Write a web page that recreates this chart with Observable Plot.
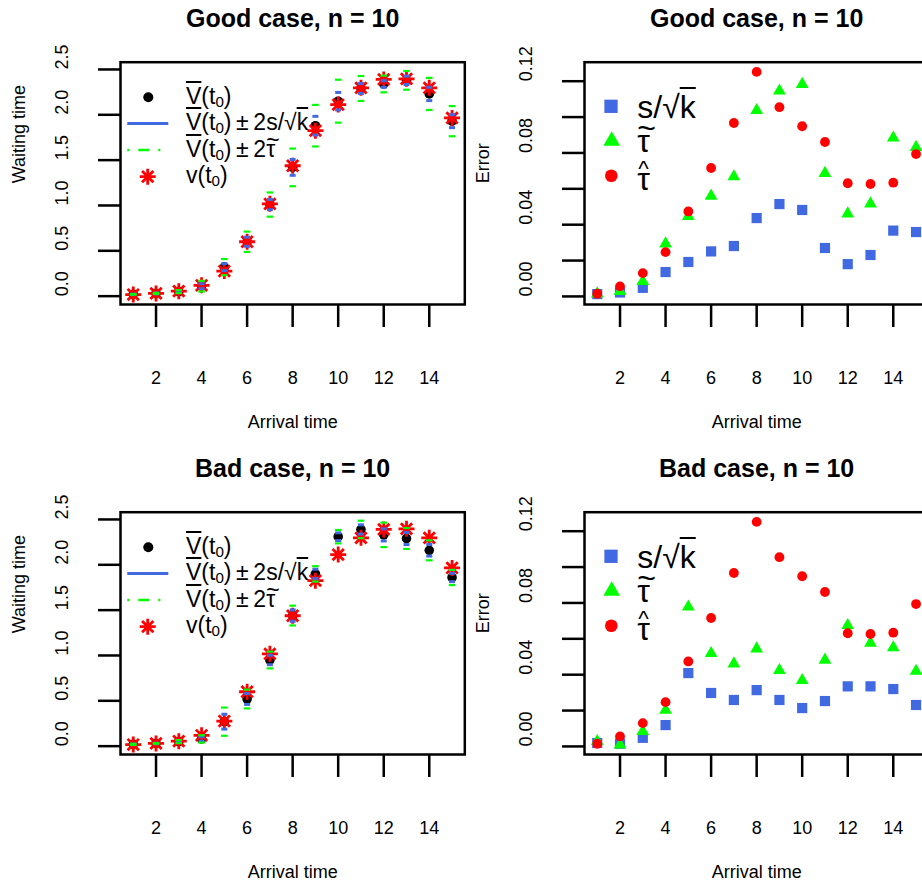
<!DOCTYPE html>
<html>
<head>
<meta charset="utf-8">
<script src="https://cdn.jsdelivr.net/npm/d3@7"></script>
<script src="https://cdn.jsdelivr.net/npm/@observablehq/plot@0.6"></script>
<style>
  html, body { margin:0; padding:0; background:#fff; overflow:hidden; }
  #root { position:relative; width:922px; height:882px; overflow:hidden; background:#fff;
          font-family:"Liberation Sans", Arial, Helvetica, sans-serif; color:#000; }
  .panel { position:absolute; width:470px; height:441px; }
  .panel > svg { position:absolute; left:0; top:0; overflow:visible; }
  .lg { position:absolute; line-height:1; white-space:nowrap; }
  .ov { text-decoration: overline; text-decoration-thickness: 2px; }
  .sb { font-size:0.66em; vertical-align:-0.22em; }
  .acc { position:relative; display:inline-block; }
  .mk { position:absolute; left:0; width:100%; text-align:center; line-height:1; }
</style>
</head>
<body>
<div id="root"></div>
<script>
// ---------- data ----------
const arrivalTime = [1, 2, 3, 4, 5, 6, 7, 8, 9, 10, 11, 12, 13, 14, 15];
const trueWait     = [0.018, 0.03, 0.055, 0.12, 0.277, 0.60, 1.018, 1.438, 1.825, 2.113, 2.297, 2.39, 2.397, 2.297, 1.965];
const goodMeanWait = [0.02, 0.03, 0.05, 0.11, 0.32, 0.60, 1.01, 1.42, 1.88, 2.15, 2.29, 2.34, 2.38, 2.23, 1.93];
const badMeanWait  = [0.02, 0.03, 0.05, 0.08, 0.27, 0.52, 0.95, 1.44, 1.90, 2.31, 2.39, 2.33, 2.29, 2.16, 1.86];
const goodSE       = [0.0013, 0.0022, 0.0048, 0.0136, 0.0192, 0.0251, 0.0281, 0.0437, 0.0515, 0.0482, 0.0270, 0.0180, 0.0231, 0.0367, 0.0359];
const goodTauTilde = [0.0015, 0.0028, 0.0084, 0.0294, 0.0447, 0.0560, 0.0668, 0.1038, 0.1146, 0.1183, 0.0687, 0.0461, 0.0517, 0.0884, 0.0832];
const badSE        = [0.0019, 0.0015, 0.0048, 0.0119, 0.0409, 0.0298, 0.0259, 0.0314, 0.0259, 0.0214, 0.0253, 0.0335, 0.0335, 0.0320, 0.0231];
const badTauTilde  = [0.0028, 0.0009, 0.0084, 0.0203, 0.0778, 0.0519, 0.0461, 0.0545, 0.0424, 0.0368, 0.0482, 0.0675, 0.0577, 0.0551, 0.0420];
const tauHat       = [0.0015, 0.0056, 0.0130, 0.0247, 0.0474, 0.0716, 0.0967, 0.1252, 0.1055, 0.0949, 0.0861, 0.0631, 0.0627, 0.0634, 0.0794];

const timeTicks = [2, 4, 6, 8, 10, 12, 14];
const waitTicks = [0, 0.5, 1, 1.5, 2, 2.5];
const errorTicks = [0, 0.02, 0.04, 0.06, 0.08, 0.10, 0.12];
const errorTickLabels = [0, 0.04, 0.08, 0.12];

const titles = ["Good case, n = 10", "Good case, n = 10", "Bad case, n = 10", "Bad case, n = 10"];
const xLabel = "Arrival time";
const yLabelLeft = "Waiting time";
const yLabelRight = "Error";

// ---------- style ----------
const BLUE = "#4169E1", GREEN = "#00FF00", RED = "#FF0000";
const FONT = "'Liberation Sans', Arial, Helvetica, sans-serif";

// custom symbols (r = sqrt(size/PI))
const star8 = { draw(ctx, size) { const r = Math.sqrt(size / Math.PI), d = r / Math.SQRT2;
  ctx.moveTo(-r, 0); ctx.lineTo(r, 0); ctx.moveTo(0, -r); ctx.lineTo(0, r);
  ctx.moveTo(-d, -d); ctx.lineTo(d, d); ctx.moveTo(-d, d); ctx.lineTo(d, -d); } };
const squareSym = { draw(ctx, size) { const r = Math.sqrt(size / Math.PI); ctx.rect(-r, -r, 2 * r, 2 * r); } };
const triSym = { draw(ctx, size) { const a = Math.sqrt(size / Math.PI), h = a * Math.sqrt(3);
  ctx.moveTo(0, -2 * h / 3); ctx.lineTo(a, h / 3); ctx.lineTo(-a, h / 3); ctx.closePath(); } };
const dashSym = { draw(ctx, size) { const r = Math.sqrt(size / Math.PI); ctx.moveTo(-r, 0); ctx.lineTo(r, 0); } };

const PW = 470, PH = 441;
const common = {
  width: PW, height: PH,
  marginLeft: 120, marginRight: 5.7, marginTop: 61.7, marginBottom: PH - 304,
  x: { type: "linear", domain: [0.44, 15.56] },
  style: { fontFamily: FONT, fontSize: "18px", background: "transparent", overflow: "visible", color: "#000" }
};

function frameMarks(title, yTicks, yLabels, yFmt, yLabel) {
  return [
    Plot.axisX({ ticks: timeTicks, tickSize: 23, tickFormat: () => "", label: null, strokeWidth: 2.5 }),
    Plot.axisY({ ticks: yTicks, tickSize: 22, tickFormat: () => "", label: null, strokeWidth: 2.5 }),
    Plot.text(timeTicks, { x: d => d, frameAnchor: "bottom", dy: 74.2, text: d => String(d), fontSize: 18, lineAnchor: "middle" }),
    Plot.text(yLabels, { y: d => d, frameAnchor: "left", dx: -58.5, rotate: -90, text: yFmt, fontSize: 18, lineAnchor: "middle" }),
    Plot.text([xLabel], { frameAnchor: "bottom", dy: 117.9, text: d => d, fontSize: 18, lineAnchor: "middle" }),
    Plot.text([yLabel], { frameAnchor: "left", dx: -101.3, rotate: -90, text: d => d, fontSize: 18, lineAnchor: "middle" }),
    Plot.text([title], { frameAnchor: "top", dy: -43, text: d => d, fontSize: 25, fontWeight: "bold", lineAnchor: "middle" })
  ];
}

function leftPlot(title, mean, se, tau) {
  return Plot.plot({
    ...common,
    y: { type: "linear", domain: [-0.092, 2.58] },
    marks: [
      ...frameMarks(title, waitTicks, waitTicks, d => d.toFixed(1), yLabelLeft),
      Plot.dot(arrivalTime, { x: d => d, y: (d, i) => mean[i], r: 4.8, fill: "#000", symbol: "circle" }),
      Plot.dot(arrivalTime, { x: d => d, y: (d, i) => trueWait[i], symbol: star8, r: 8, stroke: RED, strokeWidth: 2.8, fill: "none" }),
      Plot.dot(arrivalTime, { x: d => d, y: (d, i) => mean[i] + 2 * se[i], symbol: dashSym, r: 3, stroke: BLUE, strokeWidth: 3, fill: "none" }),
      Plot.dot(arrivalTime, { x: d => d, y: (d, i) => mean[i] - 2 * se[i], symbol: dashSym, r: 3, stroke: BLUE, strokeWidth: 3, fill: "none" }),
      Plot.dot(arrivalTime, { x: d => d, y: (d, i) => mean[i] + 2 * tau[i], symbol: dashSym, r: 3.3, stroke: GREEN, strokeWidth: 2.2, fill: "none" }),
      Plot.dot(arrivalTime, { x: d => d, y: (d, i) => mean[i] - 2 * tau[i], symbol: dashSym, r: 3.3, stroke: GREEN, strokeWidth: 2.2, fill: "none" }),
      Plot.frame({ stroke: "#000", strokeWidth: 2.5 })
    ]
  });
}

function rightPlot(title, se, tau) {
  return Plot.plot({
    ...common,
    y: { type: "linear", domain: [-0.0045, 0.1306] },
    marks: [
      ...frameMarks(title, errorTicks, errorTickLabels, d => d.toFixed(2), yLabelRight),
      Plot.dot(arrivalTime, { x: d => d, y: (d, i) => se[i], symbol: squareSym, r: 5.1, fill: BLUE, stroke: "none" }),
      Plot.dot(arrivalTime, { x: d => d, y: (d, i) => tau[i], symbol: triSym, r: 6.4, fill: GREEN, stroke: "none" }),
      Plot.dot(arrivalTime, { x: d => d, y: (d, i) => tauHat[i], symbol: "circle", r: 4.9, fill: RED, stroke: "none" }),
      Plot.frame({ stroke: "#000", strokeWidth: 2.5 })
    ]
  });
}

// ---------- legends ----------
function addText(panel, html, left, baseline, size) {
  const d = document.createElement("div");
  d.className = "lg";
  d.style.left = left + "px";
  d.style.top = (baseline - 0.8465 * size) + "px";
  d.style.fontSize = size + "px";
  d.innerHTML = html;
  panel.appendChild(d);
}
const Vbar = `<span class="ov">V</span>(t<span class="sb">0</span>)`;
const tauTildeHtml = `<span class="acc">τ<span class="mk" style="top:-0.38em">~</span></span>`;
const tauHatHtml = `<span class="acc">τ<span class="mk" style="top:-4.5px;font-size:0.7em">^</span></span>`;

function symPath(sym, r) { return d3.symbol(sym, Math.PI * r * r)(); }

function leftLegend(panel) {
  const svg = d3.select(panel).append("svg").attr("width", PW).attr("height", PH);
  svg.append("circle").attr("cx", 148.3).attr("cy", 97.3).attr("r", 5).attr("fill", "#000");
  svg.append("line").attr("x1", 127.3).attr("x2", 168.3).attr("y1", 123.5).attr("y2", 123.5)
    .attr("stroke", BLUE).attr("stroke-width", 3);
  svg.append("line").attr("x1", 127.3).attr("x2", 168.3).attr("y1", 150).attr("y2", 150)
    .attr("stroke", GREEN).attr("stroke-width", 2.5).attr("stroke-dasharray", "2 9 11 9");
  svg.append("path").attr("transform", "translate(147.7,176.7)").attr("d", symPath(star8, 8))
    .attr("stroke", RED).attr("stroke-width", 2.8).attr("fill", "none");
  addText(panel, Vbar, 186, 104, 23);
  addText(panel, `${Vbar}&thinsp;±&thinsp;2s/√<span class="ov">k</span>`, 186, 130.5, 23);
  addText(panel, `${Vbar}&thinsp;±&thinsp;2${tauTildeHtml}`, 186, 157, 23);
  addText(panel, `v(t<span class="sb">0</span>)`, 186, 183.5, 23);
}

function rightLegend(panel) {
  const svg = d3.select(panel).append("svg").attr("width", PW).attr("height", PH);
  svg.append("path").attr("transform", "translate(147,106.3)").attr("d", symPath(squareSym, 6.65)).attr("fill", BLUE);
  svg.append("path").attr("transform", "translate(147.7,141)").attr("d", symPath(triSym, 8.35)).attr("fill", GREEN);
  svg.append("circle").attr("cx", 147.3).attr("cy", 175.7).attr("r", 6.3).attr("fill", RED);
  addText(panel, `s/√<span class="ov">k</span>`, 173.3, 118.3, 32);
  addText(panel, tauTildeHtml, 173.3, 151.7, 32);
  addText(panel, tauHatHtml, 173.3, 190, 32);
}

// ---------- assemble ----------
const root = document.getElementById("root");
function makePanel(left, top) {
  const p = document.createElement("div");
  p.className = "panel";
  p.style.left = left + "px";
  p.style.top = top + "px";
  root.appendChild(p);
  return p;
}
const p1 = makePanel(0, 0);   p1.appendChild(leftPlot(titles[0], goodMeanWait, goodSE, goodTauTilde)); leftLegend(p1);
const p2 = makePanel(464, 0); p2.appendChild(rightPlot(titles[1], goodSE, goodTauTilde)); rightLegend(p2);
const p3 = makePanel(0, 450); p3.appendChild(leftPlot(titles[2], badMeanWait, badSE, badTauTilde)); leftLegend(p3);
const p4 = makePanel(464, 450); p4.appendChild(rightPlot(titles[3], badSE, badTauTilde)); rightLegend(p4);
</script>
</body>
</html>
